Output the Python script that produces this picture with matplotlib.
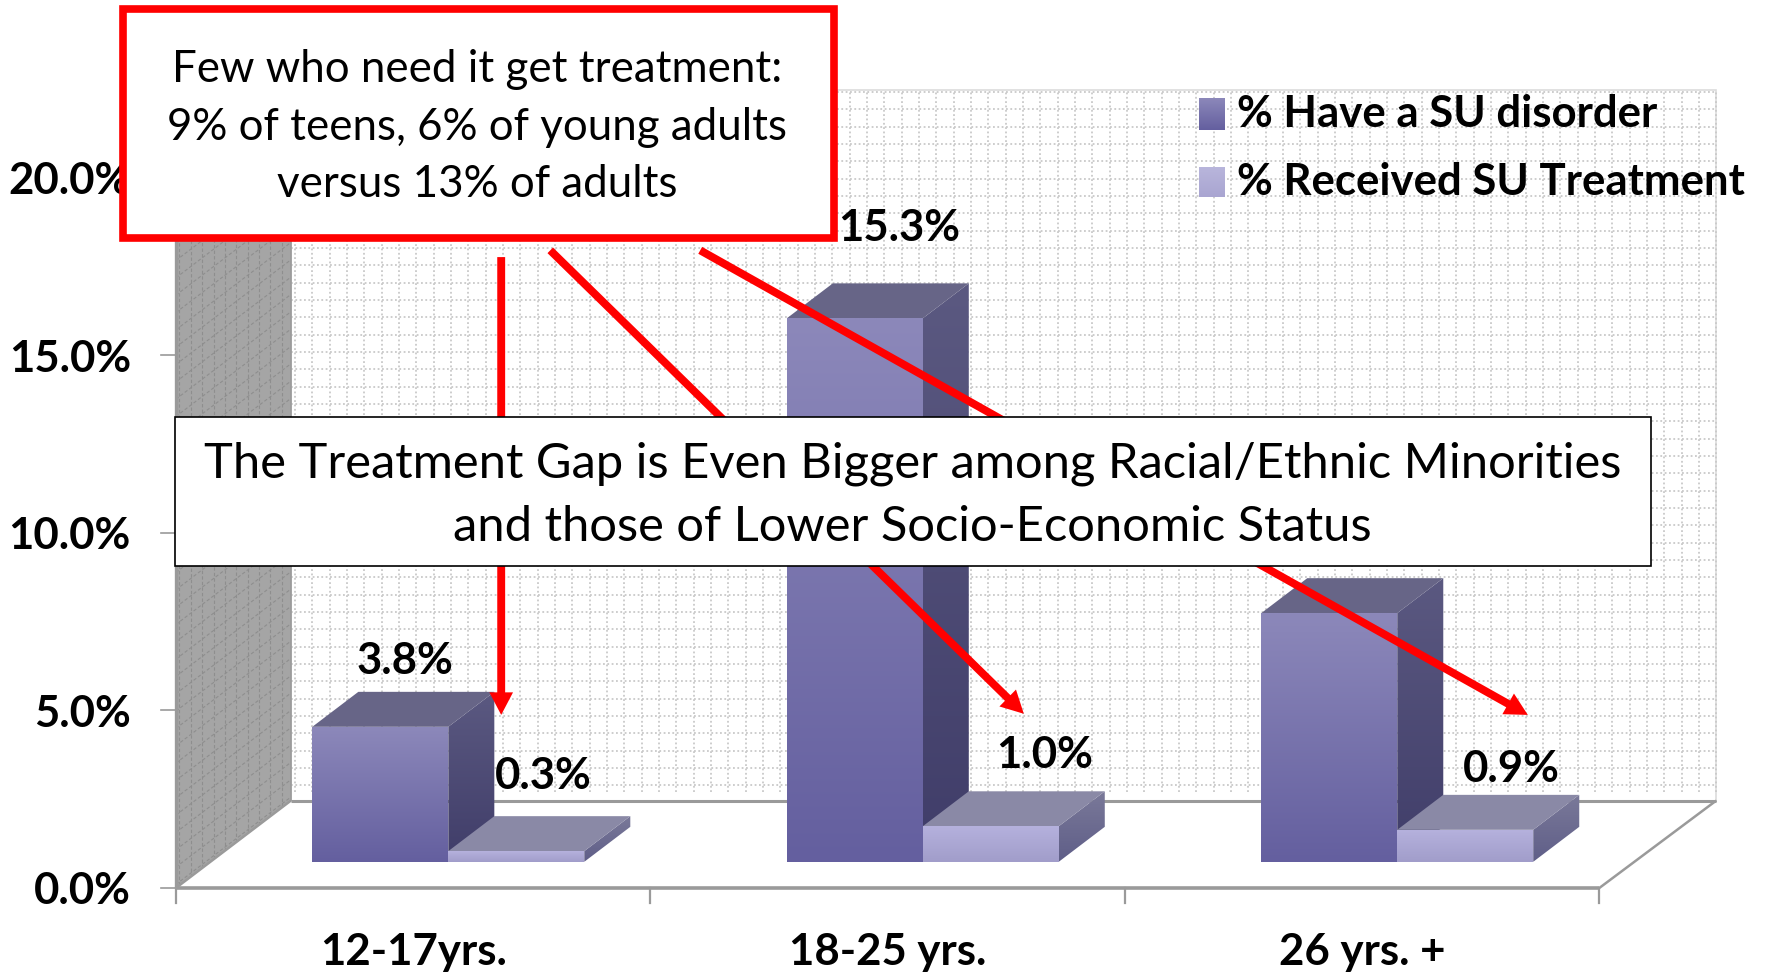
import numpy as np
import matplotlib
matplotlib.use("Agg")
import matplotlib.pyplot as plt
from matplotlib.colors import to_rgb
from matplotlib.patches import Polygon, Rectangle

plt.rcParams["font.family"] = ["Lato", "DejaVu Sans"]

# Data
groups = ["12-17yrs.", "18-25 yrs.", "26 yrs. +"]
have_disorder = [3.8, 15.3, 7.0]
received_treatment = [0.3, 1.0, 0.9]
series_names = ["% Have a SU disorder", "% Received SU Treatment"]
y_ticks = [0, 5, 10, 15, 20]
y_tick_labels = ["0.0%", "5.0%", "10.0%", "15.0%", "20.0%"]

# Layout of the oblique 3D box, in (group units, percent units)
W, H = 1568, 862
X_UNIT = 420.8
Y_UNIT = 31.5
X0, Y0 = 156, 787.5
DEPTH_X = 102 / X_UNIT
DEPTH_Y = 77.5 / Y_UNIT
BAR_WIDTH = 120.6 / X_UNIT
BAR_START = 90.4 / X_UNIT
BAR_D0, BAR_D1 = 0.30, 0.70
WALL_TOP = 20
WALL_RIGHT = 3.0
BACK_RIGHT = 3.004

GRAY = "#9a9a9a"
BOLD_SIZE = 31.5

fig = plt.figure(figsize=(17.68, 9.72), dpi=100, facecolor="white")
ax = fig.add_axes([0, 0, 1, 1])
ax.set_xlim(-X0 / X_UNIT, (W - X0) / X_UNIT)
ax.set_ylim((Y0 - H) / Y_UNIT, Y0 / Y_UNIT)
ax.axis("off")

# Second layer for callouts and legend, in plain canvas units
over = fig.add_axes([0, 0, 1, 1], zorder=5)
over.set_xlim(0, W)
over.set_ylim(H, 0)
over.axis("off")
over.patch.set_alpha(0)


def project(x, v, d=0.0):
    return x + d * DEPTH_X, v + d * DEPTH_Y


def gradient_poly(axes, verts, top, bottom, zorder):
    verts = np.array(verts)
    poly = Polygon(verts, closed=True, fc="none", ec="none", zorder=zorder)
    axes.add_patch(poly)
    t = np.linspace(0, 1, 128)[:, None, None]
    grad = (1 - t) * np.array(to_rgb(top)) + t * np.array(to_rgb(bottom))
    xlo, xhi = verts[:, 0].min(), verts[:, 0].max()
    ylo, yhi = verts[:, 1].min(), verts[:, 1].max()
    if axes.yaxis_inverted():
        ylo, yhi = yhi, ylo
    im = axes.imshow(grad, extent=(xlo, xhi, ylo, yhi), aspect="auto", zorder=zorder,
                     interpolation="bilinear")
    im.set_clip_path(poly)


def box_bar(x, value, front, side, top_color, zorder):
    x2 = x + BAR_WIDTH
    a = project(x, 0, BAR_D0)
    b = project(x2, 0, BAR_D0)
    c = project(x2, value, BAR_D0)
    e = project(x, value, BAR_D0)
    f = project(x, value, BAR_D1)
    g = project(x2, value, BAR_D1)
    h = project(x2, 0, BAR_D1)
    gradient_poly(ax, [b, c, g, h], side[0], side[1], zorder)
    ax.add_patch(Polygon([e, c, g, f], closed=True, fc=top_color, ec="none", zorder=zorder))
    gradient_poly(ax, [a, b, c, e], front[0], front[1], zorder + 0.1)


# Back wall and floor
wall_x0, wall_y0 = project(0, 0, 1)
wall_x1, wall_y1 = project(BACK_RIGHT, WALL_TOP, 1)
ax.add_patch(Rectangle((wall_x0, wall_y0), BACK_RIGHT, WALL_TOP, fc="white", ec="#dcdcdc",
                       lw=1.2, zorder=1))
grid_dots = dict(color="#c9c9c9", lw=1.3, zorder=1.1, ls=(0, (1, 1.4)))
step_x = 15.37 / X_UNIT
step_y = 15.37 / Y_UNIT
for gy in np.arange(wall_y1 - 1.6 / Y_UNIT, wall_y0, -step_y):
    ax.plot([wall_x0, wall_x1], [gy, gy], **grid_dots)
for gx in np.arange(wall_x0 + 3.7 / X_UNIT, wall_x1, step_x):
    ax.plot([gx, gx], [wall_y0 + 8 / Y_UNIT, wall_y1], **grid_dots)

# Side wall, gray with sheared pattern
side_wall = [project(0, 0, 0), project(0, 0, 1), project(0, WALL_TOP, 1), project(0, WALL_TOP, 0)]
side_patch = Polygon(side_wall, closed=True, fc="#a5a5a5", ec="none", zorder=1.2)
ax.add_patch(side_patch)
side_dash = dict(color="#8e8e8e", lw=0.8, ls=(0, (3, 2)), zorder=1.3)
for d in np.arange(0.03, 1.0, 10.1 / 102):
    line, = ax.plot(*zip(project(0, 0, d), project(0, WALL_TOP, d)), **side_dash)
    line.set_clip_path(side_patch)
for v in np.arange(0.1, WALL_TOP, step_y):
    line, = ax.plot(*zip(project(0, v, 0), project(0, v, 1)), **side_dash)
    line.set_clip_path(side_patch)

# Box edges
edge = dict(color=GRAY, solid_capstyle="butt", zorder=2)
ax.plot(*zip(project(0, 0, 1), project(BACK_RIGHT, 0, 1)), lw=2.2, **edge)
ax.plot(*zip(project(BACK_RIGHT, 0, 1), project(WALL_RIGHT, 0, 0)), lw=1.8, **edge)
ax.plot(*zip(project(0, 0, 0), project(0, 0, 1)), lw=1.8, **edge)
ax.plot([0, WALL_RIGHT], [0, 0], lw=2.6, **edge)
ax.plot([0, 0], [0, WALL_TOP], lw=2.4, **edge)
ax.plot(*zip(project(0, 0, 1), project(0, WALL_TOP, 1)), lw=1.2, **edge)

# Axis ticks and labels
for v, lab in zip(y_ticks, y_tick_labels):
    ax.plot([-13 / X_UNIT, 0], [v, v], color=GRAY, lw=1.2, zorder=2)
    ax.text(-40 / X_UNIT, v - 3 / Y_UNIT, lab, ha="right", va="center", fontsize=BOLD_SIZE,
            fontweight="bold", color="black", zorder=3)
for i in range(len(groups) + 1):
    ax.plot([i, i], [0, -13 / Y_UNIT], color=GRAY, lw=1.6, zorder=2)
for i, name in enumerate(groups):
    ax.text(i + 0.5, -57 / Y_UNIT, name, ha="center", va="center", fontsize=BOLD_SIZE,
            fontweight="bold", color="black", zorder=3)

# Bars
for i in range(len(groups)):
    bx = i + BAR_START
    box_bar(bx, have_disorder[i], ("#8c88ba", "#645f9f"), ("#5b5981", "#403d69"), "#676587", 3)
    box_bar(bx + BAR_WIDTH, received_treatment[i], ("#b5b1dd", "#a19dca"), ("#7a7999", "#5f5e88"),
            "#8a89a6", 3.2)

# Value labels
value_labels = [(0, 0, "3.8%"), (1, 0, "15.3%"), (0, 1, "0.3%"), (1, 1, "1.0%"), (2, 1, "0.9%")]
label_shift = {"3.8%": (22, 58), "15.3%": (39, 80), "0.3%": (24, 67), "1.0%": (48, 63), "0.9%": (41, 54)}
for i, s, text in value_labels:
    val = (have_disorder if s == 0 else received_treatment)[i]
    cx, cy = project(i + BAR_START + (s + 0.5) * BAR_WIDTH, val, BAR_D0)
    dx, dy = label_shift[text]
    ax.text(cx + dx / X_UNIT, cy + dy / Y_UNIT, text, ha="center", va="center", fontsize=BOLD_SIZE,
            fontweight="bold", color="black", zorder=4)

# Legend
legend_rows = [(87, 115, "#8c88ba", "#645f9f", 101), (148, 175, "#b9b6dc", "#a9a5d1", 161)]
for (y0, y1, c0, c1, ty), name in zip(legend_rows, series_names):
    gradient_poly(over, [(1063, y0), (1086, y0), (1086, y1), (1063, y1)], c0, c1, 2)
    over.text(1097, ty, name, ha="left", va="center", fontsize=BOLD_SIZE, fontweight="bold",
              color="black", zorder=3)

# Red arrows from the callout
arrow_style = dict(width=7, head_width=21, head_length=20, length_includes_head=True,
                   fc="#ff0000", ec="none", zorder=4)
for start, end in [((444.5, 228), (444.5, 634)), ((488, 222), (908, 633)), ((621, 222), (1355, 634))]:
    over.arrow(start[0], start[1], end[0] - start[0], end[1] - start[1], **arrow_style)

# Message box across the chart
over.add_patch(Rectangle((155, 370), 1309, 132, fc="white", ec="black", lw=1.2, zorder=5))
over.text(809, 411, "The Treatment Gap is Even Bigger among Racial/Ethnic Minorities", ha="center",
          va="center", fontsize=35.2, color="black", zorder=6)
over.text(809, 467, "and those of Lower Socio-Economic Status", ha="center", va="center",
          fontsize=35.2, color="black", zorder=6)

# Red callout box
over.add_patch(Rectangle((109.5, 8), 630, 203, fc="white", ec="#ff0000", lw=5.5, zorder=7,
                         joinstyle="miter"))
callout = ["Few who need it get treatment:", "9% of teens, 6% of young adults", "versus 13% of adults"]
for y, line in zip([62, 113, 164], callout):
    over.text(423, y, line, ha="center", va="center", fontsize=31.6, color="black", zorder=8)

plt.savefig("out.png", dpi=100)
plt.close()
